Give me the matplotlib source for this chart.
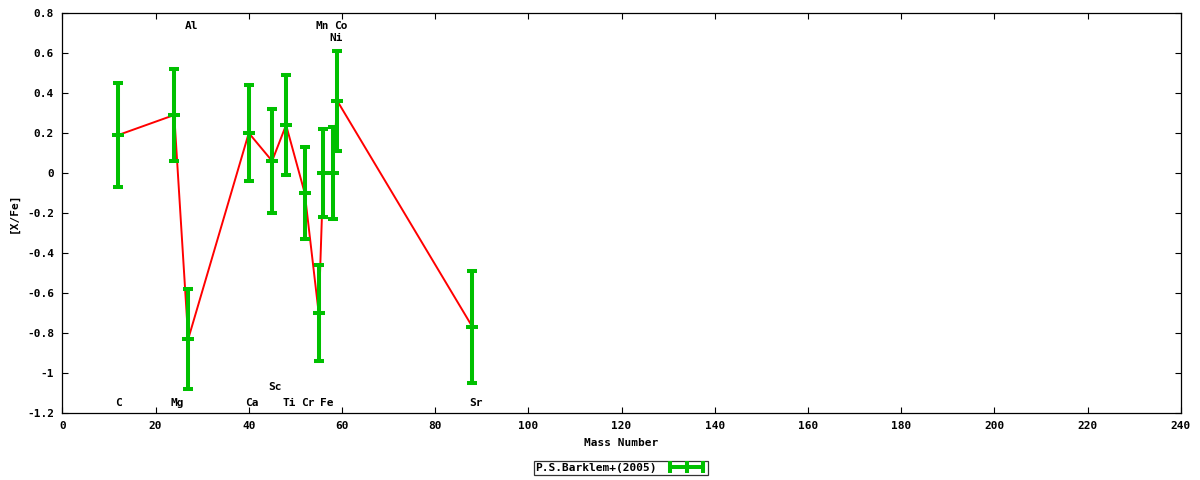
import matplotlib
matplotlib.use("Agg")
import matplotlib.pyplot as plt
from matplotlib.lines import Line2D

# [X/Fe] vs mass number, P.S.Barklem+(2005)
elements = ["C", "Mg", "Al", "Ca", "Sc", "Ti", "Cr", "Mn", "Fe", "Ni", "Co", "Sr"]
mass = [12, 24, 27, 40, 45, 48, 52, 55, 56, 58, 59, 88]
xfe = [0.19, 0.29, -0.83, 0.20, 0.06, 0.24, -0.10, -0.70, 0.00, 0.00, 0.36, -0.77]
err = [0.26, 0.23, 0.25, 0.24, 0.26, 0.25, 0.23, 0.24, 0.22, 0.23, 0.25, 0.28]

# where the element names sit (gnuplot-ish rows)
label_y = [-1.15, -1.15, 0.735, -1.15, -1.07, -1.15, -1.15, 0.735, -1.15, 0.675, 0.735, -1.15]

GREEN = "#00c000"
RED = "#ff0000"
FONT = dict(family="DejaVu Sans Mono", weight="bold", size=8)

fig = plt.figure(figsize=(12, 4.8), dpi=100)
ax = fig.add_axes([0.052, 0.1396, 0.932, 0.8333])

ax.plot(mass, xfe, color=RED, lw=1.4, zorder=1)
ax.errorbar(mass, xfe, yerr=err, fmt="_", color=GREEN, ecolor=GREEN,
            elinewidth=2.9, capsize=3.8, capthick=2.9, markersize=9,
            markeredgewidth=2.9, zorder=2)

for name, x, y in zip(elements, mass, label_y):
    ax.annotate(name, (x, y), xytext=(-2.5, 0), textcoords="offset points",
                ha="left", va="center", **FONT)

ax.set_xlim(0, 240)
ax.set_ylim(-1.2, 0.8)
ax.set_xticks(range(0, 241, 20))
yt = [-1.2, -1.0, -0.8, -0.6, -0.4, -0.2, 0.0, 0.2, 0.4, 0.6, 0.8]
ax.set_yticks(yt)
ax.set_yticklabels(["%g" % v for v in yt])
ax.tick_params(direction="in", length=4, width=0.8, top=True, right=True,
               pad=6, labelsize=8)
for lab in ax.get_xticklabels() + ax.get_yticklabels():
    lab.set_fontfamily("DejaVu Sans Mono")
    lab.set_fontweight("bold")
for s in ax.spines.values():
    s.set_linewidth(0.9)
    s.set_color("black")

ax.set_xlabel("Mass Number", labelpad=5, **FONT)
ax.set_ylabel("[X/Fe]", labelpad=6, **FONT)

handle = Line2D([0], [0], color=GREEN, lw=2.9, marker="|", markersize=8,
                markeredgewidth=2.9)
leg = fig.legend([handle], ["P.S.Barklem+(2005)"], loc="center",
                 bbox_to_anchor=(0.5175, 0.025), numpoints=3,
                 handlelength=3.6, markerfirst=False, fancybox=False,
                 borderpad=0.15, handletextpad=0.9, borderaxespad=0,
                 prop=dict(family="DejaVu Sans Mono", weight="bold", size=8))
leg.get_frame().set_edgecolor("black")
leg.get_frame().set_linewidth(0.9)

fig.savefig("out.png", dpi=100)
